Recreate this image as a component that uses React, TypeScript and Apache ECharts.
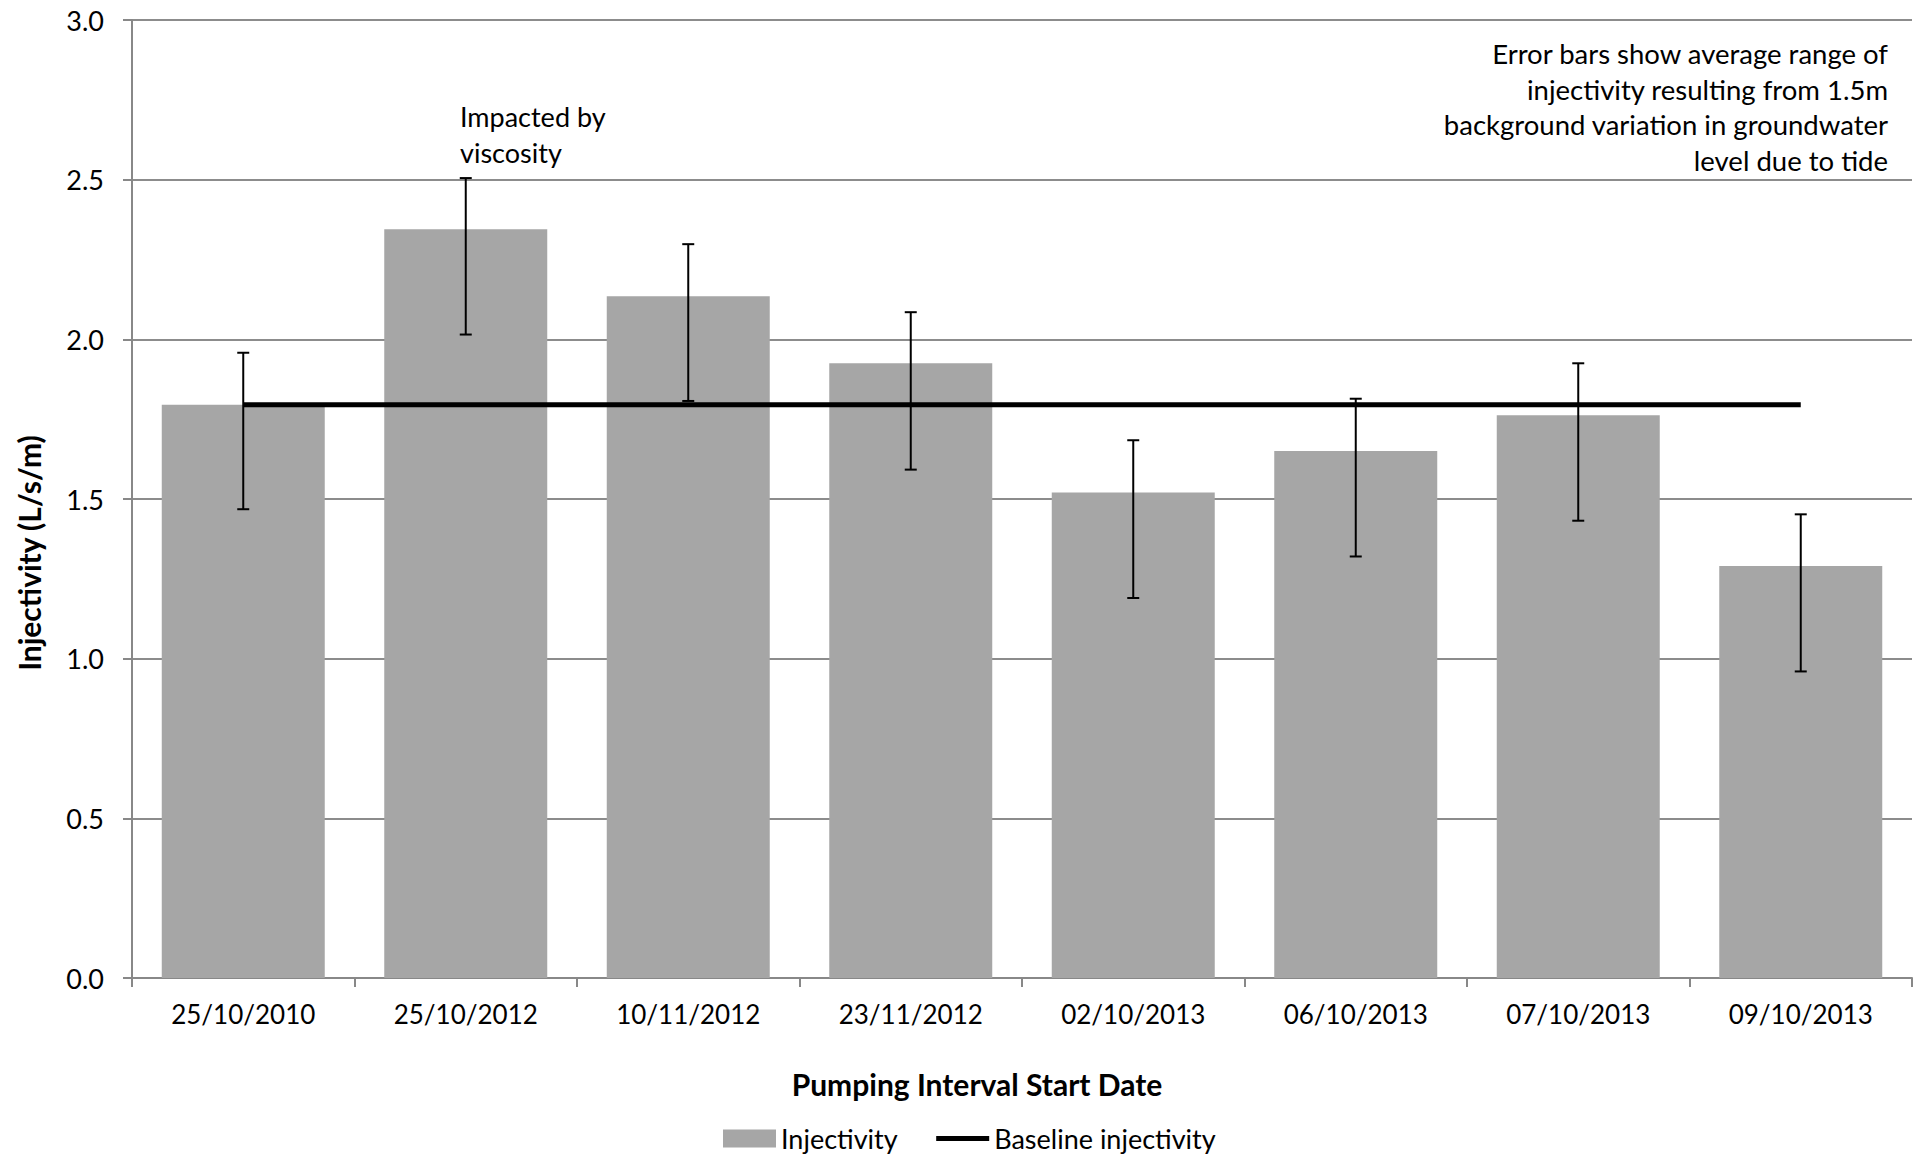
import React, { useEffect, useRef } from "react";
import * as echarts from "echarts";

const categories = [
  "25/10/2010",
  "25/10/2012",
  "10/11/2012",
  "23/11/2012",
  "02/10/2013",
  "06/10/2013",
  "07/10/2013",
  "09/10/2013",
];
const injectivity = [1.795, 2.345, 2.135, 1.925, 1.52, 1.65, 1.762, 1.29];
const errorUpper = [0.163, 0.16, 0.163, 0.16, 0.164, 0.164, 0.163, 0.162];
const errorLower = [0.327, 0.33, 0.328, 0.333, 0.33, 0.33, 0.33, 0.33];
const baselineInjectivity = [1.795, 1.795, 1.795, 1.795, 1.795, 1.795, 1.795, 1.795];
const yTicks = { min: 0, max: 3, interval: 0.5 };

const FONT = "Lato";

export default function App() {
  const ref = useRef<HTMLDivElement>(null);

  useEffect(() => {
    if (!ref.current) return;
    const chart = echarts.init(ref.current, undefined, { renderer: "svg" });
    const errData = categories.map((_, i) => [
      i,
      injectivity[i] - errorLower[i],
      injectivity[i] + errorUpper[i],
    ]);
    chart.setOption({
      animation: false,
      backgroundColor: "#ffffff",
      textStyle: { fontFamily: FONT, color: "#000" },
      grid: { left: 132, right: 7, top: 20, bottom: 178, containLabel: false },
      legend: {
        left: 718,
        top: 1120,
        itemWidth: 53,
        itemHeight: 18,
        itemGap: 36,
        textStyle: { fontFamily: FONT, fontSize: 27, color: "#000" },
        data: [
          { name: "Injectivity", icon: "rect" },
          {
            name: "Baseline injectivity",
            itemStyle: { opacity: 0 },
            lineStyle: { width: 5, color: "#000" },
          },
        ],
      },
      xAxis: {
        type: "category",
        data: categories,
        boundaryGap: true,
        axisLine: { show: true, lineStyle: { color: "#888", width: 2 } },
        axisTick: { show: true, length: 9, inside: false, lineStyle: { color: "#888", width: 2 } },
        axisLabel: { fontFamily: FONT, fontSize: 26, color: "#000", margin: 23 },
        splitLine: { show: false },
      },
      yAxis: {
        type: "value",
        min: yTicks.min,
        max: yTicks.max,
        interval: yTicks.interval,
        axisLine: { show: true, lineStyle: { color: "#888", width: 2 } },
        axisTick: { show: true, length: 9, inside: false, lineStyle: { color: "#888", width: 2 } },
        axisLabel: {
          fontFamily: FONT,
          fontSize: 27,
          color: "#000",
          margin: 28,
          formatter: (v: number) => v.toFixed(1),
        },
        splitLine: { show: true, lineStyle: { color: "#8c8c8c", width: 2 } },
      },
      series: [
        {
          name: "Injectivity",
          type: "bar",
          data: injectivity,
          barWidth: 163,
          itemStyle: { color: "#a6a6a6" },
          z: 2,
        },
        {
          name: "Baseline injectivity",
          type: "line",
          data: baselineInjectivity,
          symbol: "none",
          showSymbol: false,
          lineStyle: { color: "#000", width: 5 },
          itemStyle: { color: "#000" },
          z: 3,
        },
        {
          name: "Error",
          type: "custom",
          data: errData,
          encode: { x: 0, y: [1, 2] },
          z: 4,
          renderItem: (params: any, api: any) => {
            const x = api.value(0);
            const lo = api.value(1);
            const hi = api.value(2);
            const pHi = api.coord([x, hi]);
            const pLo = api.coord([x, lo]);
            const hw = 6;
            const st = { stroke: "#000", lineWidth: 2 };
            return {
              type: "group",
              children: [
                { type: "line", shape: { x1: pHi[0], y1: pHi[1], x2: pLo[0], y2: pLo[1] }, style: st },
                { type: "line", shape: { x1: pHi[0] - hw, y1: pHi[1], x2: pHi[0] + hw, y2: pHi[1] }, style: st },
                { type: "line", shape: { x1: pLo[0] - hw, y1: pLo[1], x2: pLo[0] + hw, y2: pLo[1] }, style: st },
              ],
            };
          },
        },
      ],
      graphic: [
        {
          type: "text",
          x: 460,
          y: 98,
          style: {
            text: "Impacted by\nviscosity",
            fontFamily: FONT,
            fontSize: 27,
            lineHeight: 36,
            fill: "#000",
            textAlign: "left",
            textVerticalAlign: "top",
          },
        },
        {
          type: "text",
          x: 1888,
          y: 36,
          style: {
            text:
              "Error bars show average range of\ninjectivity resulting from 1.5m\nbackground variation in groundwater\nlevel due to tide",
            fontFamily: FONT,
            fontSize: 27.5,
            lineHeight: 35.5,
            fill: "#000",
            align: "right",
            textAlign: "right",
            textVerticalAlign: "top",
          },
        },
        {
          type: "text",
          x: 977,
          y: 1084,
          style: {
            text: "Pumping Interval Start Date",
            fontFamily: FONT,
            fontSize: 30,
            fontWeight: "bold",
            fill: "#000",
            textAlign: "center",
            textVerticalAlign: "middle",
          },
        },
        {
          type: "text",
          x: 29,
          y: 553,
          rotation: Math.PI / 2,
          style: {
            text: "Injectivity (L/s/m)",
            fontFamily: FONT,
            fontSize: 30,
            fontWeight: "bold",
            fill: "#000",
            textAlign: "center",
            textVerticalAlign: "middle",
          },
        },
      ],
    });
    return () => chart.dispose();
  }, []);

  return (
    <div
      ref={ref}
      style={{ position: "fixed", left: 0, top: 0, width: 1919, height: 1156, background: "#fff" }}
    />
  );
}
